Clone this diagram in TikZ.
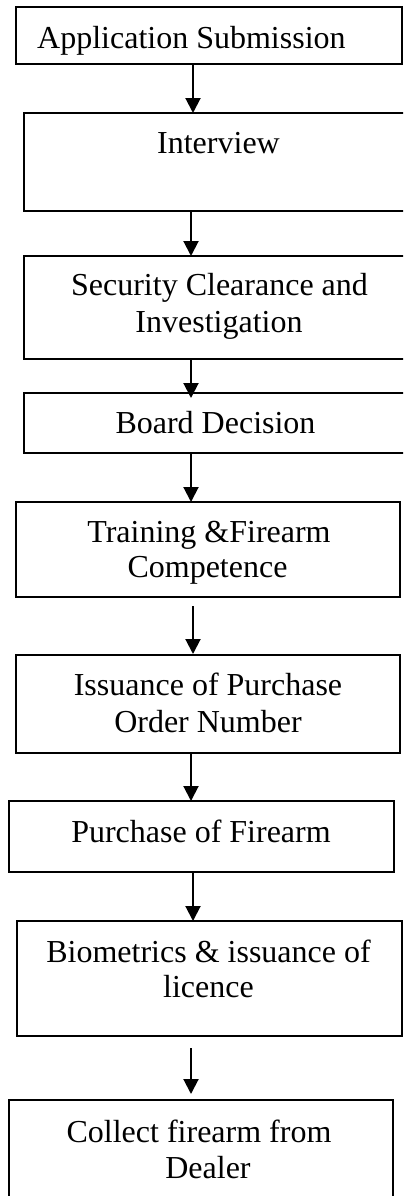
\documentclass[tikz,border=0pt]{standalone}
\usepackage{fontspec}
\setmainfont{Liberation Serif}
\usetikzlibrary{arrows.meta}
\begin{document}
\begin{tikzpicture}[x=1bp,y=-1bp,
  box/.style={draw, line width=1.6bp, rectangle, inner sep=0pt, outer sep=0pt, anchor=north west},
  txt/.style={font=\fontsize{32bp}{37bp}\selectfont, inner sep=0pt, anchor=base},
  arr/.style={line width=2bp, -{Triangle[width=15bp,length=15bp]}}]
\useasboundingbox (0,0) rectangle (403,1196);
\clip (0,0) rectangle (403,1196);
% boxes
\node[box, minimum width=386bp, minimum height=57bp] (b1) at (16,7) {};
\node[box, minimum width=400bp, minimum height=98bp] (b2) at (24,113) {};
\node[box, minimum width=400bp, minimum height=103bp] (b3) at (24,256) {};
\node[box, minimum width=400bp, minimum height=60bp] (b4) at (24,393) {};
\node[box, minimum width=384bp, minimum height=95bp] (b5) at (16,502) {};
\node[box, minimum width=384bp, minimum height=98bp] (b6) at (16,655) {};
\node[box, minimum width=385bp, minimum height=71bp] (b7) at (9,801) {};
\node[box, minimum width=385bp, minimum height=115bp] (b8) at (17,921) {};
\node[box, minimum width=384bp, minimum height=120bp] (b9) at (9,1100) {};
% texts
\node[txt, anchor=base west] (t1) at (37,48) {Application Submission};
\node[txt] (t2) at (218.5,153) {Interview};
\node[txt] (t3a) at (219.5,295) {Security Clearance and};
\node[txt] (t3b) at (219,332) {Investigation};
\node[txt] (t4) at (215.5,433) {Board Decision};
\node[txt] (t5a) at (209,542) {Training \&Firearm};
\node[txt] (t5b) at (207.5,577) {Competence};
\node[txt] (t6a) at (208,695) {Issuance of Purchase};
\node[txt] (t6b) at (208,732) {Order Number};
\node[txt] (t7) at (201,842) {Purchase of Firearm};
\node[txt] (t8a) at (208.5,962) {Biometrics \& issuance of};
\node[txt] (t8b) at (208.5,997) {licence};
\node[txt] (t9a) at (199,1142) {Collect firearm from};
\node[txt] (t9b) at (208,1178) {Dealer};
% arrow columns
\coordinate (xa) at (193,0);
\coordinate (xb) at (191,0);
% arrows
\draw[arr] (b1.south -| xa) -- (b2.north -| xa);
\draw[arr] (b2.south -| xb) -- (b3.north -| xb);
\draw[arr, shorten >=-5bp] (b3.south -| xb) -- (b4.north -| xb);
\draw[arr] (b4.south -| xb) -- (b5.north -| xb);
\draw[arr, shorten <=9bp, shorten >=1bp] (b5.south -| xa) -- (b6.north -| xa);
\draw[arr] (b6.south -| xb) -- (b7.north -| xb);
\draw[arr] (b7.south -| xa) -- (b8.north -| xa);
\draw[arr, shorten <=12bp, shorten >=6bp] (b8.south -| xb) -- (b9.north -| xb);
\end{tikzpicture}
\end{document}
